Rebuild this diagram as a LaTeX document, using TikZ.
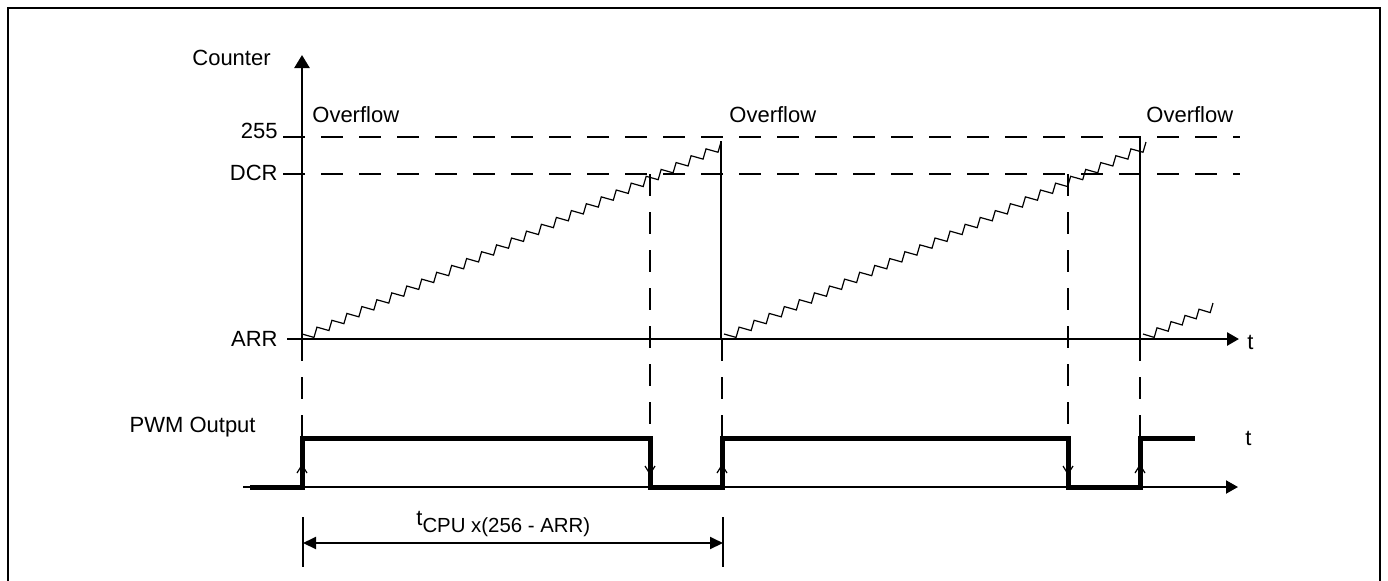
\documentclass[tikz,border=0pt]{standalone}
\usepackage{fontspec}
\setmainfont{Liberation Sans}
\usetikzlibrary{arrows.meta}
\newcommand{\zigramp}[5]{%
  \draw[zig] (#1,#2) foreach \i in {1,...,#5} {
    -- ({#1+(#3-#1)/#5*(\i-0.2)},{#2+(#4-#2)/#5*(\i-1)+3.4})
    -- ({#1+(#3-#1)/#5*\i},{#2+(#4-#2)/#5*\i})
  };}
\begin{document}
\begin{tikzpicture}[x=0.5pt,y=-0.5pt,
  font=\fontsize{11}{13}\selectfont,
  axis/.style={line width=1.3pt},
  dsh/.style={line width=1pt, dash pattern=on 11pt off 8pt},
  zig/.style={line width=0.6pt, line join=miter},
  pwm/.style={line width=2.5pt, line join=miter},
  chev/.style={line width=0.6pt},
  thin/.style={line width=1pt},
  tip/.style={-{Triangle[length=6pt,width=6.5pt]}},
  lbl/.style={inner sep=0pt}]
\useasboundingbox (0,0) rectangle (1388,580);
% frame
\draw[line width=1.3pt] (8,585) -- (8,8) -- (1380,8) -- (1380,585);
% axes
\coordinate (O) at (302,339);
\coordinate (Ytip) at (302,55);
\coordinate (Xs) at (287,339);
\coordinate (Xtip) at (1239,339);
\draw[axis,-{Triangle[length=6.5pt,width=7.5pt]}] (O) -- (Ytip);
\draw[axis,tip] (Xs) -- (Xtip);
% levels
\draw[dsh] (283,137) -- (1240,137);
\draw[dsh] (283,174) -- (1240,174);
% overflow lines
\draw[axis] (721,141) -- (721,339);
\draw[axis] (1140,138) -- (1140,339);
% counter ramps
\zigramp{302}{334}{721}{142}{28}
\zigramp{724}{334}{1146}{142}{28}
\zigramp{1143}{334}{1213}{303}{5}
% dashed projections
\draw[dsh] (302,339) -- (302,438);
\draw[dsh] (650,174) -- (650,438);
\draw[dsh] (722,339) -- (722,438);
\draw[dsh] (1068,174) -- (1068,438);
\draw[dsh] (1140,339) -- (1140,438);
% PWM
\coordinate (Ps) at (243,487);
\coordinate (Ptip) at (1238,487);
\draw[thin,tip] (Ps) -- (Ptip);
\draw[pwm] (250,487) -- (302,487) -- (302,438) -- (650,438) -- (650,487)
  -- (722,487) -- (722,438) -- (1068,438) -- (1068,487) -- (1140,487)
  -- (1140,438) -- (1195,438);
\foreach \x in {302,722,1140} \draw[chev] (\x-5,473) -- (\x,465) -- (\x+5,473);
\foreach \x in {650,1068} \draw[chev] (\x-5,466) -- (\x,474) -- (\x+5,466);
% dimension
\coordinate (d1) at (303,543);
\coordinate (d2) at (723,543);
\draw[thin] (303,517) -- (303,567);
\draw[thin] (723,517) -- (723,567);
\draw[thin,{Triangle[length=6.5pt,width=6pt]}-{Triangle[length=6.5pt,width=6pt]}] (d1) -- (d2);
\node[lbl,anchor=base west] (dim) at (416,525)
  {t\raisebox{-3.5pt}{\fontsize{10.2}{12}\selectfont CPU x(256 - ARR)}};
% labels
\node[lbl,anchor=west] (counter) at (192,58) {Counter};
\node[lbl,anchor=east] (l255) at (278,131) {255};
\node[lbl,anchor=east] (ldcr) at (278,173) {DCR};
\node[lbl,anchor=east] (larr) at (278,339) {ARR};
\node[lbl,anchor=west] (ov1) at (312,115) {Overflow};
\node[lbl,anchor=west] (ov2) at (729,115) {Overflow};
\node[lbl,anchor=west] (ov3) at (1146,115) {Overflow};
\node[lbl,anchor=west] (t1) at (1247,342) {t};
\node[lbl,anchor=east] (pwmlbl) at (256,427) {PWM Output};
\node[lbl,anchor=west] (t2) at (1245,438) {t};
\end{tikzpicture}
\end{document}
